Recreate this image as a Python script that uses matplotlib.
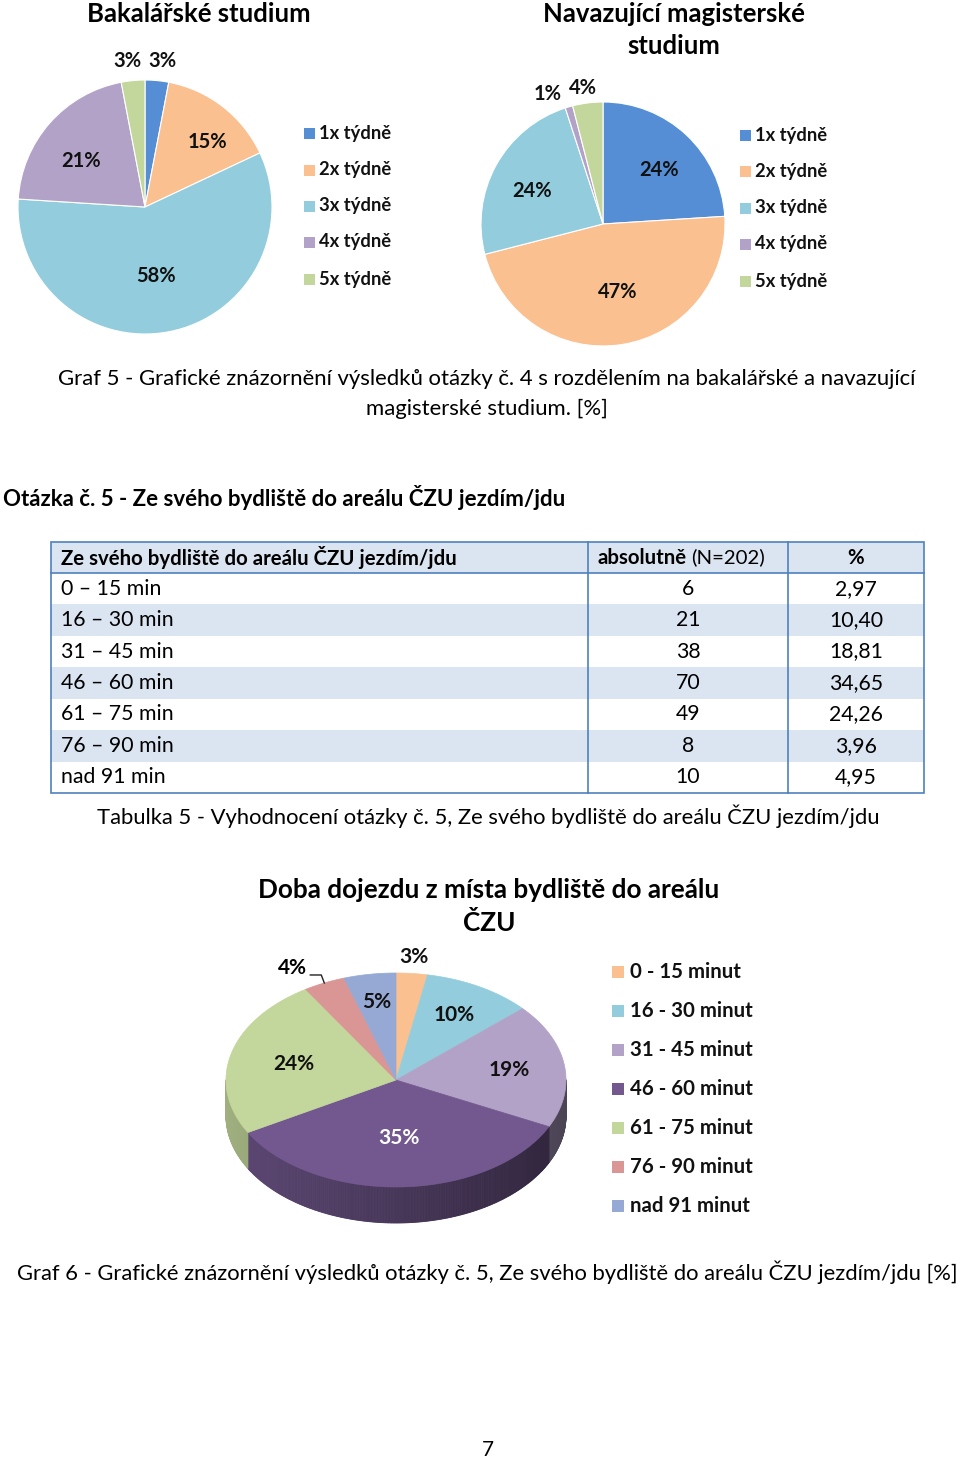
import numpy as np
import matplotlib
matplotlib.use('Agg')
import matplotlib.pyplot as plt
from matplotlib.patches import Rectangle, Polygon

plt.rcParams['font.family'] = ['Lato', 'DejaVu Sans']

W, H = 960, 1459

# data
freq_labels = ['1x týdně', '2x týdně', '3x týdně', '4x týdně', '5x týdně']
bc_values = [3, 15, 58, 21, 3]
nm_values = [24, 47, 24, 1, 4]

time_rows = ['0 – 15 min', '16 – 30 min', '31 – 45 min', '46 – 60 min',
             '61 – 75 min', '76 – 90 min', 'nad 91 min']
time_abs = [6, 21, 38, 70, 49, 8, 10]
time_pct = [2.97, 10.40, 18.81, 34.65, 24.26, 3.96, 4.95]
time_legend = ['0 - 15 minut', '16 - 30 minut', '31 - 45 minut', '46 - 60 minut',
               '61 - 75 minut', '76 - 90 minut', 'nad 91 minut']

freq_colors = ['#558ED5', '#FAC090', '#93CDDD', '#B3A2C7', '#C3D69B']
time_colors = ['#FAC090', '#93CDDD', '#B3A2C7', '#72588F', '#C3D69B', '#D99694', '#95A9D4']
border = '#4F81BD'
shade = '#DBE5F1'

fig = plt.figure(figsize=(W / 100, H / 100), dpi=100)
page = fig.add_axes([0, 0, 1, 1])
page.set_xlim(0, W)
page.set_ylim(H, 0)
page.axis('off')


def flat_pie(values, cx, cy, r, label_pos):
    # square axes so that radius 1 == r pixels
    ax = fig.add_axes([(cx - 1.3 * r) / W, 1 - (cy + 1.3 * r) / H, 2.6 * r / W, 2.6 * r / H])
    wedges, _ = ax.pie(values, colors=freq_colors, startangle=90, counterclock=False,
                       wedgeprops=dict(edgecolor='white', linewidth=0.8))
    ax.set_xlim(-1.3, 1.3)
    ax.set_ylim(-1.3, 1.3)
    for w, v, (d, da) in zip(wedges, values, label_pos):
        mid = np.deg2rad((w.theta1 + w.theta2) / 2 + da)
        ax.text(d * np.cos(mid), d * np.sin(mid), f'{v}%', ha='center', va='center',
                fontsize=14.5, fontweight='bold', color='#111111')
    return ax


def legend(x, ys, labels, colors, size=13.2):
    for y, lab, col in zip(ys, labels, colors):
        page.add_patch(Rectangle((x, y - 5.5), 11, 11, facecolor=col, edgecolor='none'))
        page.text(x + 15, y, lab, ha='left', va='center', fontsize=size,
                  fontweight='bold', color='#111111')


# pie 1 and 2
page.text(199, 14, 'Bakalářské studium', ha='center', va='center', fontsize=18.5, fontweight='bold')
flat_pie(bc_values, 145, 207, 127, [(1.16, -1.5), (0.71, -6), (0.55, -2), (0.62, 6), (1.16, 1.3)])
legend(304, [133, 170, 206, 242, 279], freq_labels, freq_colors)

page.text(674, 14, 'Navazující magisterské', ha='center', va='center', fontsize=18.5, fontweight='bold')
page.text(674, 46, 'studium', ha='center', va='center', fontsize=18.5, fontweight='bold')
flat_pie(nm_values, 603, 224, 122, [(0.64, -3), (0.57, 3), (0.64, 4), (1.16, 6.6), (1.13, 1)])
legend(740, [135, 171, 208, 244, 281], freq_labels, freq_colors)

page.text(487, 379, 'Graf 5 - Grafické znázornění výsledků otázky č. 4 s rozdělením na bakalářské a navazující',
          ha='center', va='center', fontsize=15.9)
page.text(487, 409, 'magisterské studium. [%]', ha='center', va='center', fontsize=15.9)

page.text(3, 497, 'Otázka č. 5 - Ze svého bydliště do areálu ČZU jezdím/jdu',
          ha='left', va='center', fontsize=16, fontweight='bold')

# table
tx = [51, 588, 788, 924]
ty0, hh = 542, 31
rh = (793 - 573) / len(time_rows)
page.add_patch(Rectangle((tx[0], ty0), tx[3] - tx[0], hh, facecolor=shade, edgecolor='none'))
for i in range(len(time_rows)):
    y = ty0 + hh + i * rh
    if i % 2 == 1:
        page.add_patch(Rectangle((tx[0], y), tx[3] - tx[0], rh, facecolor=shade, edgecolor='none'))
    yc = y + rh / 2
    page.text(61, yc, time_rows[i], ha='left', va='center', fontsize=15.3)
    page.text(688, yc, str(time_abs[i]), ha='center', va='center', fontsize=15.3)
    page.text(856, yc, f'{time_pct[i]:.2f}'.replace('.', ','), ha='center', va='center', fontsize=15.3)
ybot = ty0 + hh + len(time_rows) * rh
page.add_patch(Rectangle((tx[0], ty0), tx[3] - tx[0], ybot - ty0, facecolor='none', edgecolor=border, lw=1.2))
page.plot([tx[0], tx[3]], [ty0 + hh, ty0 + hh], color=border, lw=1.2)
for x in tx[1:3]:
    page.plot([x, x], [ty0, ybot], color=border, lw=1.2)
hc = ty0 + hh / 2
page.text(61, hc, 'Ze svého bydliště do areálu ČZU jezdím/jdu', ha='left', va='center',
          fontsize=14.7, fontweight='bold')
page.text(687, hc, 'absolutně', ha='right', va='center', fontsize=14.7, fontweight='bold')
page.text(691, hc, '(N=202)', ha='left', va='center', fontsize=14.7)
page.text(856, hc, '%', ha='center', va='center', fontsize=14.7, fontweight='bold')

page.text(488, 816, 'Tabulka 5 - Vyhodnocení otázky č. 5, Ze svého bydliště do areálu ČZU jezdím/jdu',
          ha='center', va='center', fontsize=15.8)

# 3D pie
page.text(489, 890, 'Doba dojezdu z místa bydliště do areálu', ha='center', va='center',
          fontsize=18.8, fontweight='bold')
page.text(489, 923, 'ČZU', ha='center', va='center', fontsize=18.8, fontweight='bold')

cx3, cy3, rx3, ry3, depth = 396, 1080, 170, 107, 36
cum = np.concatenate([[0], np.cumsum(time_pct)]) / np.sum(time_pct)
starts = 90 - 360 * cum[:-1]
ends = 90 - 360 * cum[1:]


def ell(theta):
    t = np.deg2rad(theta)
    return cx3 + rx3 * np.cos(t), cy3 - ry3 * np.sin(t)


def darker(col, f):
    rgb = np.array(matplotlib.colors.to_rgb(col))
    return tuple(np.clip(rgb * f, 0, 1))


# side wall
for col, a, b in zip(time_colors, starts, ends):
    ts = np.linspace(b, a, max(int((a - b) * 2), 2) + 1)
    for t0, t1 in zip(ts[:-1], ts[1:]):
        tm = np.deg2rad((t0 + t1) / 2)
        if np.sin(tm) >= 0:
            continue
        f = 0.62 - 0.2 * np.cos(tm)
        x0, y0 = ell(t0)
        x1, y1 = ell(t1)
        c = darker(col, f)
        page.add_patch(Polygon([(x0, y0), (x1, y1), (x1, y1 + depth), (x0, y0 + depth)],
                               closed=True, facecolor=c, edgecolor=c, lw=0.6))

# top face
for col, a, b in zip(time_colors, starts, ends):
    ts = np.linspace(a, b, 100)
    xs, ys = ell(ts)
    pts = [(cx3, cy3)] + list(zip(xs, ys))
    page.add_patch(Polygon(pts, closed=True, facecolor=col, edgecolor=col, lw=0.5))

# labels
label_k = [1.15, 0.7, 0.67, 0.54, 0.62, None, 0.74]
for i, (a, b, v, k) in enumerate(zip(starts, ends, time_pct, label_k)):
    mid = (a + b) / 2
    txt = f'{round(v):d}%'
    if k is None:
        ex, ey = ell(mid)
        page.plot([ex - 14, ex - 3, ex], [ey - 8, ey - 8, ey], color='#222222', lw=1)
        page.text(ex - 32, ey - 15, txt, ha='center', va='center', fontsize=15, fontweight='bold')
        continue
    t = np.deg2rad(mid)
    lx, ly = cx3 + k * rx3 * np.cos(t), cy3 - k * ry3 * np.sin(t)
    page.text(lx, ly, txt, ha='center', va='center', fontsize=15, fontweight='bold',
              color='white' if i == 3 else '#111111')

for j, (lab, col) in enumerate(zip(time_legend, time_colors)):
    y = 972 + j * 39
    page.add_patch(Rectangle((612, y - 6), 12, 12, facecolor=col, edgecolor='none'))
    page.text(630, y, lab, ha='left', va='center', fontsize=14.7, fontweight='bold', color='#111111')

page.text(487, 1272, 'Graf 6 - Grafické znázornění výsledků otázky č. 5, Ze svého bydliště do areálu ČZU jezdím/jdu [%]',
          ha='center', va='center', fontsize=15.8)
page.text(488, 1450, '7', ha='center', va='center', fontsize=15)

fig.savefig('out.png', dpi=100, facecolor='white')
